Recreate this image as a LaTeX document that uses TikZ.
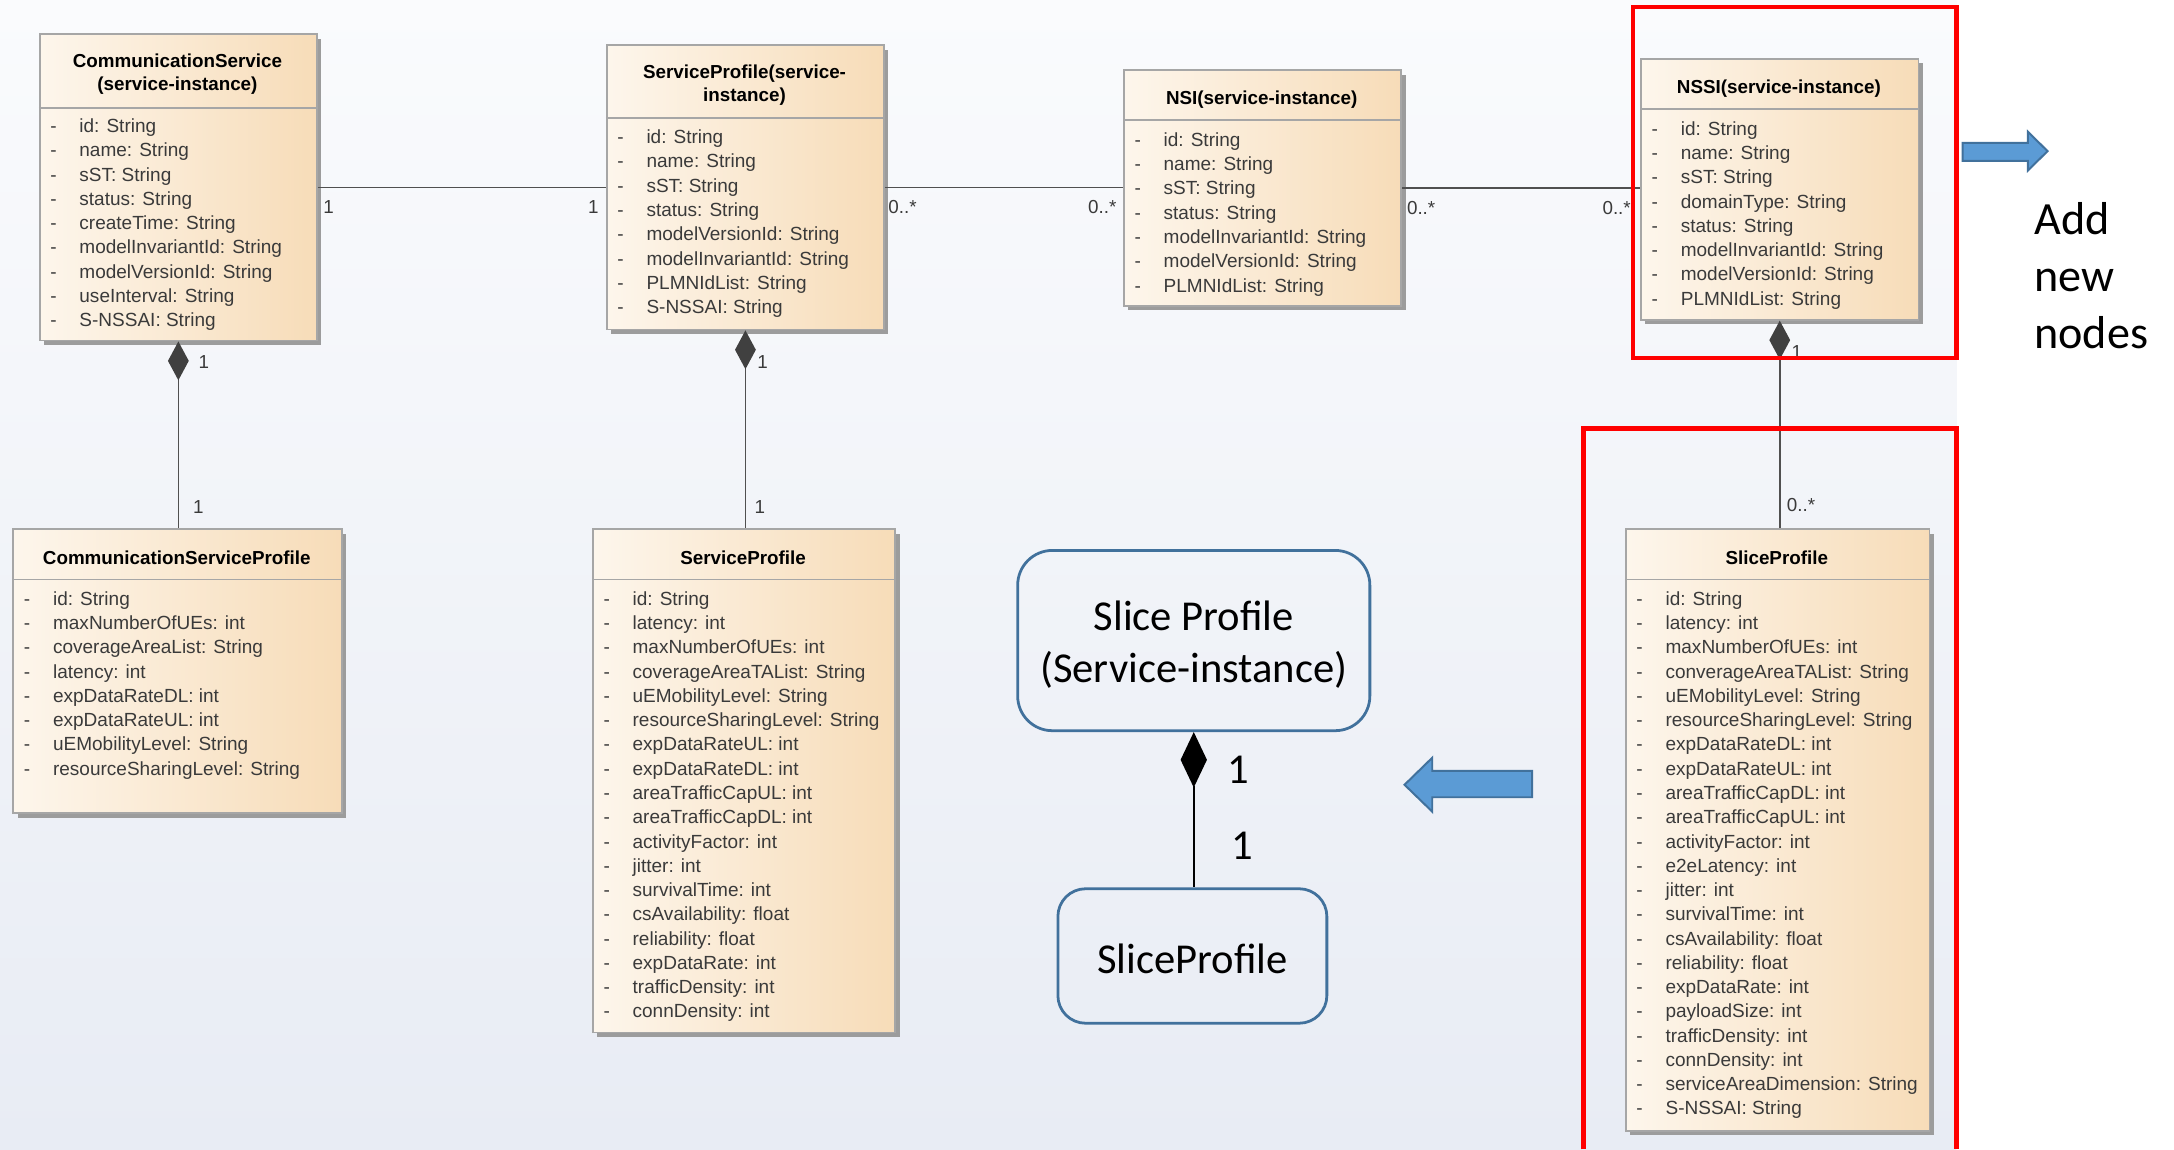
\documentclass[tikz,border=0pt]{standalone}
\usepackage{fontspec}
\setmainfont{Liberation Sans}
\newfontfamily\calibfont{Carlito}
\usetikzlibrary{arrows.meta,shadows}

\definecolor{bgtop}{HTML}{FAFBFD}
\definecolor{bgbot}{HTML}{E8ECF4}
\definecolor{clsleft}{HTML}{FDF6EC}
\definecolor{clsright}{HTML}{F7DCB8}
\definecolor{clsborder}{HTML}{A6A6A6}
\definecolor{clsshadow}{HTML}{9C9C9C}
\definecolor{attrgray}{HTML}{3A3A3A}
\definecolor{linkgray}{HTML}{505050}
\definecolor{diamondgray}{HTML}{404040}
\definecolor{noteblue}{HTML}{5B9BD5}
\definecolor{noteborder}{HTML}{41719C}
\definecolor{markred}{HTML}{FF0000}

\tikzset{
  classbox/.style={draw=clsborder, line width=0.9pt, left color=clsleft, right color=clsright,
    drop shadow={shadow xshift=2.2pt, shadow yshift=-2.2pt, fill=clsshadow, opacity=1}, inner sep=0pt},
  divider/.style={draw=clsborder, line width=0.8pt},
  classtitle/.style={font=\fontsize{9.5}{11.9}\selectfont\bfseries, align=center, inner sep=0pt,
    text=black, yshift=-1.4pt},
  attr/.style={font=\fontsize{9.6}{11}\selectfont, text=attrgray, anchor=mid west, inner sep=0pt,
    yshift=-1.3pt},
  dashmark/.style={attr},
  assoc/.style={draw=linkgray, line width=0.85pt},
  compo/.style={assoc, {Diamond[length=19.6pt, width=10.5pt, fill=diamondgray, color=diamondgray]}-},
  mult/.style={font=\fontsize{9.5}{11}\selectfont, text=attrgray, inner sep=0pt},
  rbox/.style={draw=noteborder, line width=1.4pt, inner sep=0pt},
  rtext/.style={font=\calibfont\fontsize{21.5}{26.6}\selectfont, text=black, align=center, inner sep=0pt},
  bigmult/.style={font=\calibfont\fontsize{21.5}{26}\selectfont, text=black, inner sep=0pt},
  bluearrow/.style={fill=noteblue, draw=noteborder, line width=1pt},
  redframe/.style={draw=markred, line width=2.2pt},
  notetext/.style={font=\calibfont\fontsize{23.3}{29}\selectfont, text=black, anchor=base west, inner sep=0pt}
}

% class box: name, x1, y1, x2, y2, divider y, first row y, attributes
\newcommand\umlclass[8]{%
  \node[classbox, anchor=north west, minimum width={(#4-#2)*0.7pt},
        minimum height={(#5-#3)*0.7pt}] (#1) at (#2,#3) {};
  \draw[divider] (#2,#6) -- (#4,#6);
  \foreach \att [count=\k from 0] in {#8} {
    \node[dashmark] (#1-d\k) at ({#2+8},{#7+17.5*\k}) {-};
    \node[attr] (#1-a\k) at ({#2+29},{#7+17.5*\k}) {\att};
  }%
}

\begin{document}
\begin{tikzpicture}[x=0.7pt, y=-0.7pt]
\useasboundingbox (0,0) rectangle (1568,829);
\fill[white] (0,0) rectangle (1568,829);
\fill[top color=bgtop, bottom color=bgbot] (0,0) rectangle (1411,829);

% ---- upper row: service instances ----
\umlclass{A}{28}{24}{228}{245}{78}{90}{id: String, name: String, sST: String, status: String,
  createTime: String, modelInvariantId: String, modelVersionId: String, useInterval: String, S-NSSAI: String}
\node[classtitle] (A-t) at (128,51.5) {CommunicationService\\(service-instance)};

\umlclass{B}{437}{32}{637}{237}{85}{98}{id: String, name: String, sST: String, status: String,
  modelVersionId: String, modelInvariantId: String, PLMNIdList: String, S-NSSAI: String}
\node[classtitle] (B-t) at (537,59.5) {ServiceProfile(service-\\instance)};

\umlclass{C}{810}{50}{1010}{220}{86.5}{100}{id: String, name: String, sST: String, status: String,
  modelInvariantId: String, modelVersionId: String, PLMNIdList: String}
\node[classtitle] (C-t) at (910,70) {NSI(service-instance)};

\umlclass{D}{1183}{42}{1383}{230}{78.6}{92}{id: String, name: String, sST: String, domainType: String,
  status: String, modelInvariantId: String, modelVersionId: String, PLMNIdList: String}
\node[classtitle] (D-t) at (1283,62) {NSSI(service-instance)};

% ---- lower row: profiles ----
\umlclass{E}{9}{381}{246}{586}{418}{431}{id: String, maxNumberOfUEs: int, coverageAreaList: String,
  latency: int, expDataRateDL: int, expDataRateUL: int, uEMobilityLevel: String, resourceSharingLevel: String}
\node[classtitle] (E-t) at (127.5,400) {CommunicationServiceProfile};

\umlclass{F}{427}{381}{645}{744}{418}{431}{id: String, latency: int, maxNumberOfUEs: int,
  coverageAreaTAList: String, uEMobilityLevel: String, resourceSharingLevel: String, expDataRateUL: int,
  expDataRateDL: int, areaTrafficCapUL: int, areaTrafficCapDL: int, activityFactor: int, jitter: int,
  survivalTime: int, csAvailability: float, reliability: float, expDataRate: int, trafficDensity: int,
  connDensity: int}
\node[classtitle] (F-t) at (536,400) {ServiceProfile};

\umlclass{G}{1172}{381}{1391}{815}{418}{431}{id: String, latency: int, maxNumberOfUEs: int,
  converageAreaTAList: String, uEMobilityLevel: String, resourceSharingLevel: String, expDataRateDL: int,
  expDataRateUL: int, areaTrafficCapDL: int, areaTrafficCapUL: int, activityFactor: int, e2eLatency: int,
  jitter: int, survivalTime: int, csAvailability: float, reliability: float, expDataRate: int,
  payloadSize: int, trafficDensity: int, connDensity: int, serviceAreaDimension: String, S-NSSAI: String}
\node[classtitle] (G-t) at (1281.5,400) {SliceProfile};

% ---- associations ----
\draw[assoc] (A.east) -- (A.east -| B.west);
\draw[assoc] (B.east) -- (B.east -| C.west);
\draw[assoc] (C.east) -- (C.east -| D.west);
\draw[compo] (A.south) -- (A.south |- E.north);
\draw[compo] (B.south) -- (B.south |- F.north);
\draw[compo] (D.south) -- (D.south |- G.north);

\node[mult] (mAB1) at (237,149) {1};
\node[mult] (mAB2) at (428,149) {1};
\node[mult] (mBC1) at (651,149) {0..*};
\node[mult] (mBC2) at (795,149) {0..*};
\node[mult] (mCD1) at (1025,150) {0..*};
\node[mult] (mCD2) at (1166,150) {0..*};
\node[mult] (mAE1) at (147,261) {1};
\node[mult] (mAE2) at (143,366) {1};
\node[mult] (mBF1) at (550,261) {1};
\node[mult] (mBF2) at (548,366) {1};
\node[mult] (mDG1) at (1296,254) {1};
\node[mult] (mDG2) at (1299,364) {0..*};

% ---- proposed new nodes ----
\node[rbox, rounded corners=17.5pt, minimum width={254*0.7pt}, minimum height={130*0.7pt}]
  (H) at (861,462) {};
\node[rtext] (H-t) at (861,465) {Slice Profile\\(Service-instance)};
\node[rbox, rounded corners=14pt, minimum width={194*0.7pt}, minimum height={97*0.7pt}]
  (I) at (860,689.5) {};
\node[rtext] (I-t) at (860,691.5) {SliceProfile};
\draw[line width=0.8pt, black, {Diamond[length=28pt, width=13.3pt, fill=black]}-]
  (H.south) -- (H.south |- I.north);
\node[bigmult] (mHI1) at (893,555) {1};
\node[bigmult] (mHI2) at (896,610) {1};

% ---- highlight frames ----
\draw[redframe] (1178,5) rectangle (1411,258);
\draw[redframe] (1142,829) -- (1142,309) -- (1411,309) -- (1411,829);

% ---- block arrows ----
\filldraw[bluearrow] (1415.6,103) -- (1462.6,103) -- (1462.6,95) -- (1476.8,109)
  -- (1462.6,123) -- (1462.6,116) -- (1415.6,116) -- cycle;
\filldraw[bluearrow] (1105,556) -- (1033,556) -- (1033,546.5) -- (1013,566)
  -- (1033,585.4) -- (1033,575) -- (1105,575) -- cycle;

\node[notetext] (n1) at (1467,169) {Add};
\node[notetext] (n2) at (1467,210) {new};
\node[notetext] (n3) at (1467,251) {nodes};
\end{tikzpicture}
\end{document}
